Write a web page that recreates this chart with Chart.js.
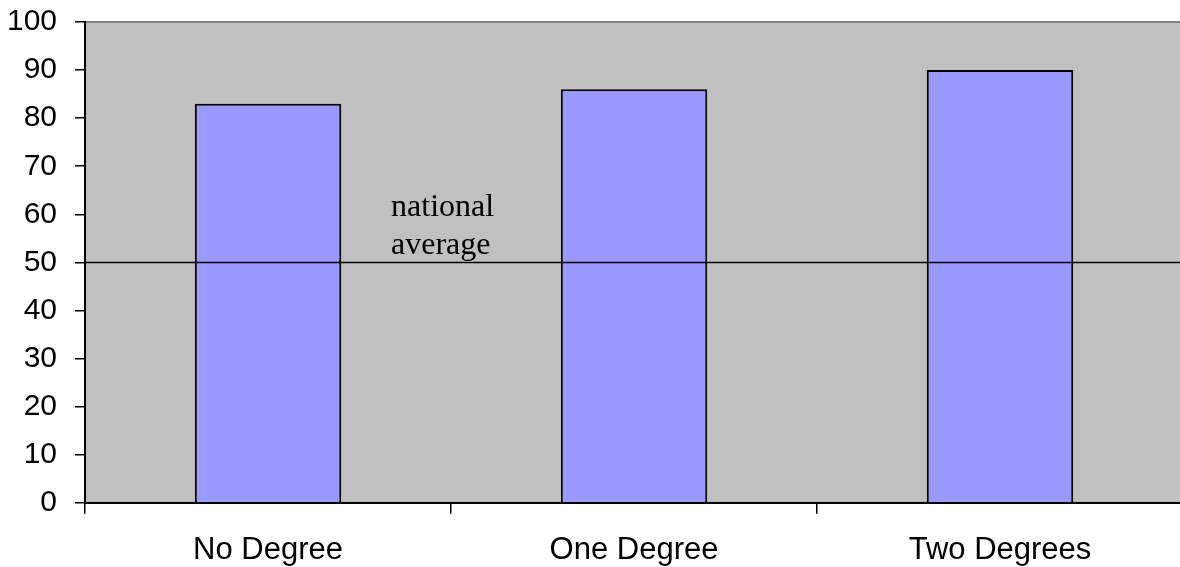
<!DOCTYPE html>
<html>
<head>
<meta charset="utf-8">
<script src="https://cdn.jsdelivr.net/npm/chart.js@4.4.1/dist/chart.umd.min.js"></script>
<style>
  html, body { margin: 0; padding: 0; background: #ffffff; overflow: hidden; }
  #wrap { position: relative; top: -14px; left: -1px; width: 1187px; height: 581px; }
</style>
</head>
<body>
<div id="wrap"><canvas id="c"></canvas></div>
<script>
const categories = ["No Degree", "One Degree", "Two Degrees"];
const values = [83, 86, 90];
const nationalAverage = 50;
const averageLabel = ["national", "average"];
const yTicks = { min: 0, max: 100, step: 10 };

const plotBg = {
  id: 'plotBg',
  beforeDraw(chart) {
    const { ctx, chartArea: a } = chart;
    ctx.save();
    ctx.fillStyle = '#c0c0c0';
    ctx.fillRect(a.left, a.top, a.right - a.left, a.bottom - a.top);
    ctx.strokeStyle = '#808080';
    ctx.lineWidth = 2;
    ctx.strokeRect(a.left, a.top, a.right - a.left, a.bottom - a.top);
    ctx.restore();
  },
  afterDatasetsDraw(chart) {
    const { ctx, chartArea: a, scales } = chart;
    const y = scales.y.getPixelForValue(nationalAverage);
    ctx.save();
    ctx.strokeStyle = '#000000';
    ctx.lineWidth = 1.5;
    ctx.beginPath();
    ctx.moveTo(a.left, y);
    ctx.lineTo(a.right, y);
    ctx.stroke();
    ctx.fillStyle = '#000000';
    ctx.font = '32px "Liberation Serif", "Times New Roman", serif';
    ctx.textAlign = 'left';
    ctx.textBaseline = 'alphabetic';
    const x = a.left + 306;
    ctx.fillText(averageLabel[0], x, y - 46);
    ctx.fillText(averageLabel[1], x, y - 8);
    ctx.restore();
  }
};

new Chart(document.getElementById('c'), {
  type: 'bar',
  data: {
    labels: categories,
    datasets: [{
      data: values,
      backgroundColor: '#9999ff',
      borderColor: '#000000',
      borderWidth: 2,
      barPercentage: 0.4,
      categoryPercentage: 1.0
    }]
  },
  options: {
    responsive: true,
    maintainAspectRatio: false,
    animation: false,
    layout: { padding: { left: -10, right: 3, top: 0, bottom: -20 } },
    plugins: { legend: { display: false }, tooltip: { enabled: false } },
    scales: {
      x: {
        grid: { drawOnChartArea: false, color: '#000000', tickLength: 11, lineWidth: 1.5, offset: true },
        border: { color: '#000000', width: 2 },
        ticks: { color: '#000000', font: { family: '"Liberation Sans", Arial, sans-serif', size: 31 }, padding: 18, maxRotation: 0 }
      },
      y: {
        min: yTicks.min, max: yTicks.max,
        grid: { drawOnChartArea: false, color: '#000000', tickLength: 10, lineWidth: 1.5 },
        border: { color: '#000000', width: 2 },
        ticks: { stepSize: yTicks.step, color: '#000000', font: { family: '"Liberation Sans", Arial, sans-serif', size: 30 }, padding: 18 }
      }
    }
  },
  plugins: [plotBg]
});
</script>
</body>
</html>
